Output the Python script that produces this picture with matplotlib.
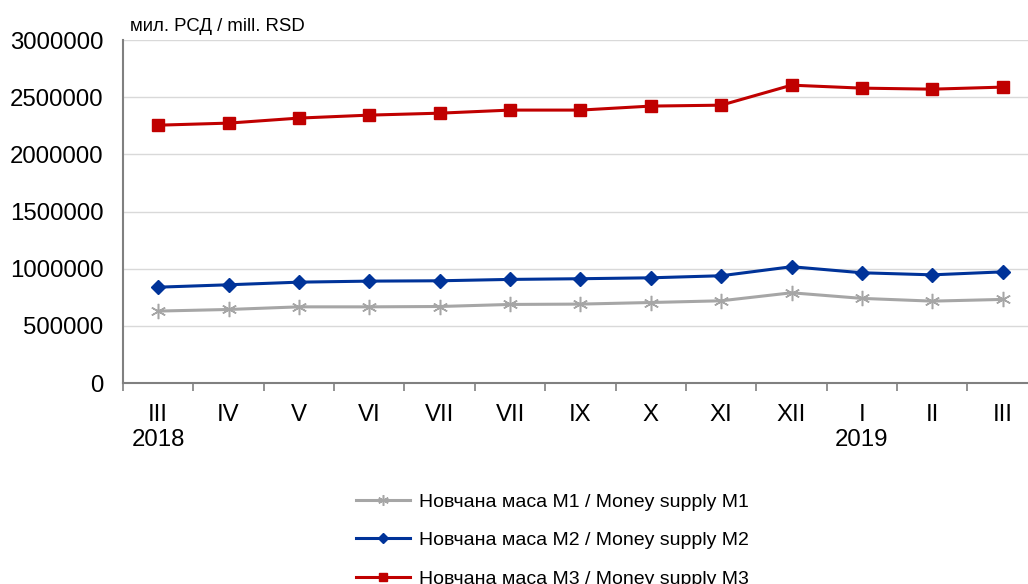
import numpy as np
import matplotlib.pyplot as plt
from matplotlib.ticker import FixedLocator

plt.rcParams['font.family'] = ['Liberation Sans', 'DejaVu Sans']

# Подаци / data
meseci = ['III', 'IV', 'V', 'VI', 'VII', 'VII', 'IX', 'X', 'XI', 'XII', 'I', 'II', 'III']
m1 = [630000, 644000, 667000, 667000, 670000, 688000, 691000, 705000, 720000, 790000, 741000, 717000, 732000]
m2 = [839000, 860000, 883000, 892000, 895000, 907000, 913000, 921000, 939000, 1018000, 965000, 947000, 973000]
m3 = [2256000, 2274000, 2318000, 2344000, 2361000, 2388000, 2388000, 2423000, 2431000, 2606000, 2580000, 2571000, 2589000]
godine = {0: '2018', 10: '2019'}

labels = ['Новчана маса М1 / Money supply M1',
          'Новчана маса М2 / Money supply M2',
          'Новчана маса М3 / Money supply M3']

fig = plt.figure(figsize=(10.28, 5.84), dpi=100)
ax = fig.add_axes([0.1196, 0.344, 0.89, 0.5873])

x = np.arange(len(meseci))
ax.plot(x, m1, color='#A6A6A6', lw=2.2, marker=(6, 2, 0), ms=11, mew=1.1, label=labels[0])
ax.plot(x, m2, color='#003399', lw=2.2, marker='D', ms=7, label=labels[1])
ax.plot(x, m3, color='#C00000', lw=2.2, marker='s', ms=8.5, label=labels[2])

ax.set_xlim(-0.5, len(meseci) - 0.5)
ax.set_ylim(0, 3000000)
ax.set_yticks(np.arange(0, 3000001, 500000))
ax.set_yticklabels([str(v) for v in range(0, 3000001, 500000)])
ax.grid(axis='y', color='#D9D9D9', lw=1)
ax.set_axisbelow(True)

ax.set_xticks(x)
ax.set_xticklabels(meseci)
ax.xaxis.set_minor_locator(FixedLocator(np.arange(-0.5, len(meseci), 1)))
ax.tick_params(axis='x', which='major', length=0, pad=15, labelsize=17.3)
ax.tick_params(axis='x', which='minor', length=6, color='#808080', width=1.2)
ax.tick_params(axis='y', length=0, pad=14, labelsize=17.3)

for s in ['top', 'right']:
    ax.spines[s].set_visible(False)
for s in ['left', 'bottom']:
    ax.spines[s].set_color('#808080')
    ax.spines[s].set_linewidth(1.5)

for i, g in godine.items():
    ax.text(i, -0.135, g, transform=ax.get_xaxis_transform(), ha='center', va='top', fontsize=17.3)

fig.text(0.126, 0.955, 'мил. РСД / mill. RSD', fontsize=13.4, ha='left', va='center')

fig.legend(loc='upper left', bbox_to_anchor=(0.339, 0.169), frameon=False, fontsize=14,
           handlelength=2.75, labelspacing=1.08, handletextpad=0.5, borderaxespad=0,
           markerscale=0.7)

fig.savefig('out.png', dpi=100)
